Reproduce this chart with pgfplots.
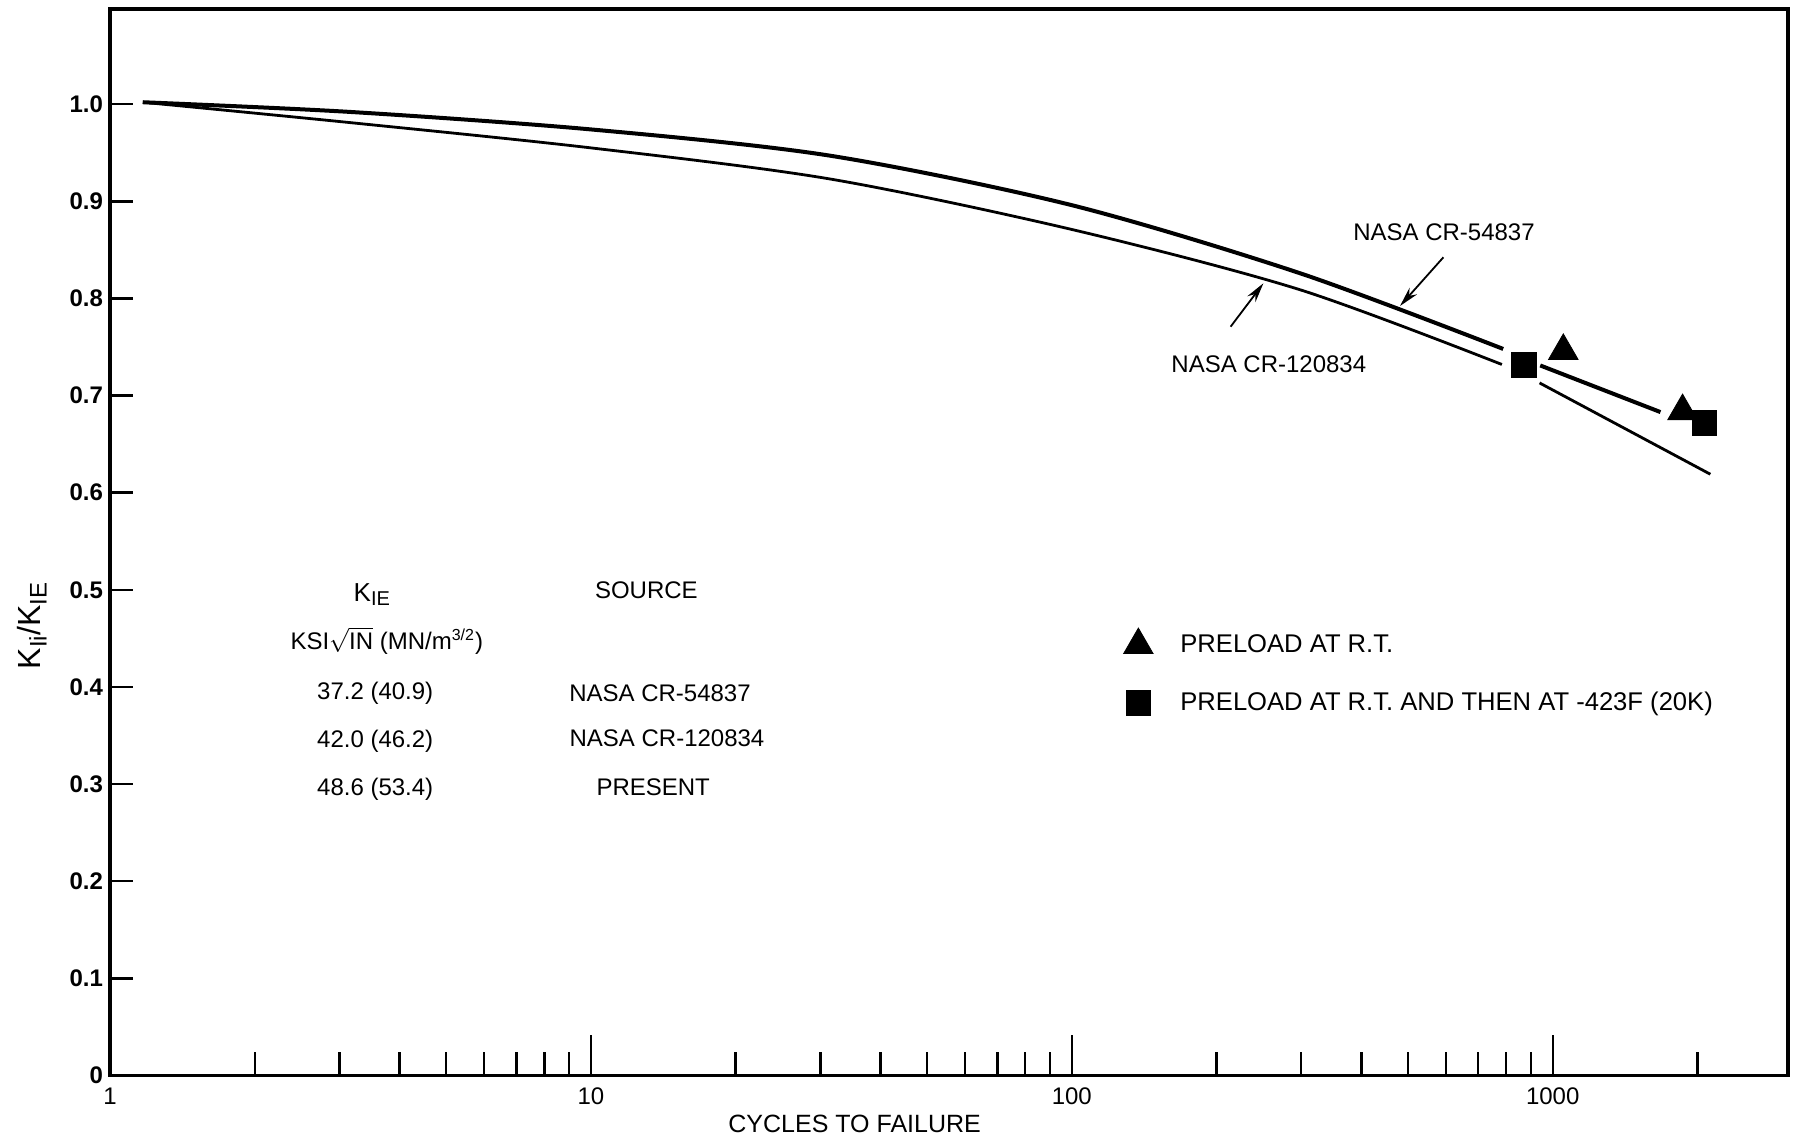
\documentclass[border=0pt]{standalone}
\usepackage{pgfplots}
\pgfplotsset{compat=1.18}
\usepackage{fontspec}
\setmainfont{Liberation Sans}
\usetikzlibrary{arrows.meta}
\newcommand{\tf}{\fontsize{12}{14}\selectfont}
\begin{document}
\begin{tikzpicture}
\begin{axis}[
  scale only axis, width=839pt, height=533.25pt,
  at={(0,0)}, anchor=south west,
  xmode=log, xmin=1, xmax=3085, ymin=0, ymax=1.098,
  clip=false,
  axis line style={line width=1.6pt},
  every tick/.style={black, line width=1.2pt},
  tick align=inside, xtick pos=bottom, ytick pos=left,
  xtick={1,10,100,1000}, xticklabels={1,10,100,1000},
  minor xtick={2,3,4,5,6,7,8,9,20,30,40,50,60,70,80,90,200,300,400,500,600,700,800,900,2000},
  extra x ticks={10,100,1000},
  extra x tick labels={\phantom{0},\phantom{0},\phantom{0}},
  extra x tick style={major tick length=20pt},
  ytick={0,0.1,0.2,0.3,0.4,0.5,0.6,0.7,0.8,0.9,1.0},
  yticklabels={0,0.1,0.2,0.3,0.4,0.5,0.6,0.7,0.8,0.9,1.0},
  major tick length=11.5pt, minor tick length=11.5pt,
  tick label style={font=\tf},
  xticklabel style={yshift=-2.5pt},
  yticklabel style={font=\tf\bfseries},
  legend style={draw=none, fill=none, at={(0.5995,0.3775)}, anchor=west,
    font={\fontsize{12.8}{15}\selectfont}, row sep=14.3pt},
  legend cell align=left,
  legend image code/.code={\path[draw=none,fill=none] (0pt,0pt) -- (27pt,0pt);
    \draw[mark repeat=2,mark phase=2,#1] plot coordinates {(0pt,0pt) (8pt,0pt) (27pt,0pt)};},
]
% NASA CR-54837 (upper, heavy)
\addplot[black, line width=2pt, smooth, forget plot] coordinates {
 (1.17,1.002) (3.16,0.992) (10,0.974) (31.4,0.947) (100,0.896) (298,0.826) (789,0.748)};
\addplot[black, line width=2pt, forget plot] coordinates {(942,0.731) (1675,0.683)};
% NASA CR-120834 (lower, lighter)
\addplot[black, line width=1.4pt, smooth, forget plot] coordinates {
 (1.17,1.002) (3.16,0.981) (10,0.955) (31.4,0.923) (100,0.871) (298,0.809) (784,0.732)};
\addplot[black, line width=1.4pt, forget plot] coordinates {(939,0.713) (2127,0.619)};
% data points
\addplot[only marks, mark=triangle*, mark size=8.5pt, mark options={fill=black, draw=black, line width=0.4pt}]
  coordinates {(1052,0.746) (1862,0.684)};
\addlegendentry{PRELOAD AT R.T.}
\addplot[only marks, mark=square*, mark size=6.2pt, mark options={fill=black, draw=black, line width=0.4pt}]
  coordinates {(871,0.7315) (2067,0.672)};
\addlegendentry{PRELOAD AT R.T. AND THEN AT -423F (20K)}
\end{axis}
% axis label texts
\node[rotate=90, font={\fontsize{16}{18}\selectfont}] at (-39pt,224.75pt)
  {K\raisebox{-0.35ex}{\fontsize{12}{14}\selectfont Ii}/K\raisebox{-0.35ex}{\fontsize{12}{14}\selectfont IE}};
\node[font={\fontsize{12.5}{15}\selectfont}] at (372.3pt,-24pt) {CYCLES TO FAILURE};
% curve labels
\node[font=\tf] at (667pt,421.6pt) {NASA CR-54837};
\draw[line width=0.9pt, -{Stealth[length=10pt,width=5pt]}] (666.7pt,409.1pt) -- (645pt,384.75pt);
\node[font=\tf] at (579.4pt,355.8pt) {NASA CR-120834};
\draw[line width=0.9pt, -{Stealth[length=10pt,width=5pt]}] (560.3pt,374.4pt) -- (576.7pt,396.1pt);
% table
\node[font=\tf] at (130.9pt,240.25pt) {\fontsize{13}{15}\selectfont K\raisebox{-0.3ex}{\fontsize{10}{12}\selectfont IE}};
\node[font=\tf] at (138.4pt,217.4pt) {KSI$\sqrt{\mbox{IN}}$ (MN/m\textsuperscript{3/2})};
\node[font=\tf] at (132.6pt,191.1pt) {37.2 (40.9)};
\node[font=\tf] at (132.6pt,167pt) {42.0 (46.2)};
\node[font=\tf] at (132.6pt,143pt) {48.6 (53.4)};
\node[font=\tf] at (268.2pt,242.5pt) {SOURCE};
\node[font=\tf] at (275pt,191.1pt) {NASA CR-54837};
\node[font=\tf] at (278.5pt,168.75pt) {NASA CR-120834};
\node[font=\tf] at (271.6pt,144.2pt) {PRESENT};
\pgfresetboundingbox
\useasboundingbox (-55pt,-31.25pt) rectangle (842pt,537.75pt);
\end{tikzpicture}
\end{document}
